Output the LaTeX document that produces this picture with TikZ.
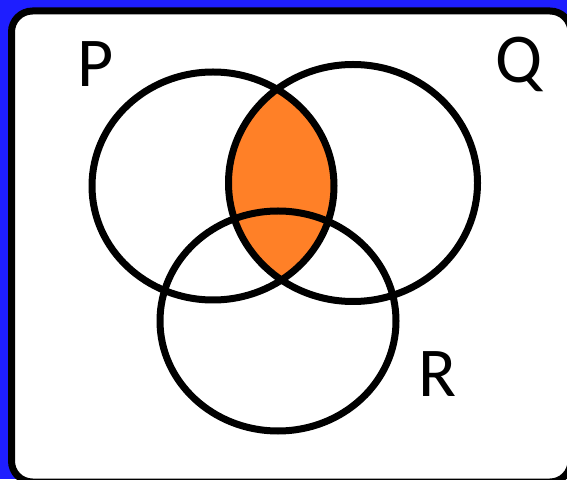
\documentclass[tikz,border=0pt]{standalone}
\usepackage{fontspec}
\setmainfont{Carlito}
\definecolor{bgblue}{RGB}{30,30,255}
\definecolor{venorange}{RGB}{255,128,39}
\tikzset{
  setline/.style={line width=7pt, draw=black},
  setlabel/.style={font=\fontsize{70}{70}\selectfont, inner sep=0pt, anchor=center}
}
\begin{document}
\begin{tikzpicture}[x=1pt,y=1pt]
  \useasboundingbox (0,0) rectangle (567,479);
  \fill[bgblue] (0,0) rectangle (567,479);
  \draw[line width=7pt, fill=white, rounded corners=21pt] (11.5,-3) rectangle (571,468);
  % orange region P and Q
  \begin{scope}
    \clip (213,293) ellipse [x radius=121, y radius=114];
    \fill[venorange] (353,296) ellipse [x radius=124.5, y radius=118.5];
  \end{scope}
  \draw[setline] (213,293) ellipse [x radius=121, y radius=114];
  \draw[setline] (353,296) ellipse [x radius=124.5, y radius=118.5];
  \draw[setline] (278,158) ellipse [x radius=118, y radius=110];
  \node[setlabel] (P) at (96,414.5) {P};
  \node[setlabel] (Q) at (519,414.5) {Q};
  \node[setlabel] (R) at (437,104.5) {R};
\end{tikzpicture}
\end{document}
